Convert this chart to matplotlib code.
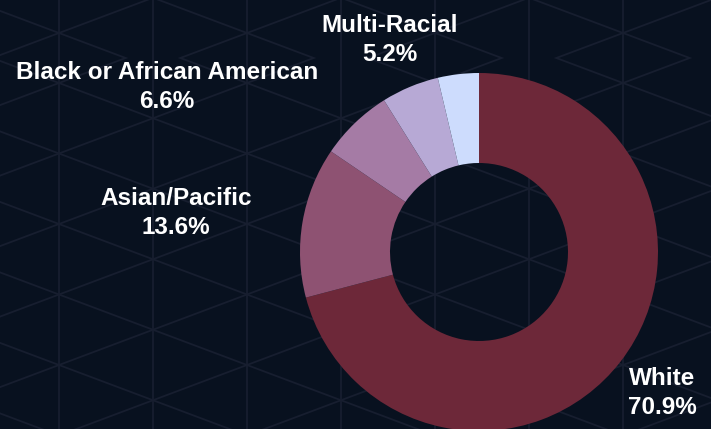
import matplotlib.pyplot as plt
from matplotlib.patches import Rectangle
import numpy as np

# --- data ---
categories = ['White', 'Asian/Pacific', 'Black or African American', 'Multi-Racial', 'Other']
shares = [70.9, 13.6, 6.6, 5.2, 3.7]
show_label = [True, True, True, True, False]

# --- style ---
BG = '#08111f'
GRID = '#171e2f'
RING = ['#6d2839', '#8e5272', '#a57ba5', '#b7a9d5', '#cddcfd']
W, H = 711, 429

# label centres (pixel coords, from top), picked by hand like the original layout
LABEL_POS = {
    'White': (662, 393),
    'Asian/Pacific': (176, 213),
    'Black or African American': (167, 87),
    'Multi-Racial': (390, 40),
}

fig = plt.figure(figsize=(W / 100, H / 100), dpi=100)
fig.patch.set_facecolor(BG)
ax = fig.add_axes([0, 0, 1, 1])
ax.set_facecolor(BG)


def lattice(y_anchor, top, bottom):
    """triangle grid: verticals every 94px, diagonals through (59, y_anchor + k*70.5)"""
    clip = Rectangle((0, H - bottom), W, bottom - top, transform=ax.transData,
                     facecolor='none', edgecolor='none')
    ax.add_patch(clip)
    s = 35.25 / 94
    xs = np.array([-20, W + 20])
    lines = []
    for x in np.arange(59 - 94, W + 94, 94):
        lines += ax.plot([x, x], [0, H], color=GRID, lw=1.3, zorder=0)
    for k in range(-12, 14):
        y0 = y_anchor + k * 70.5
        for sign in (1, -1):
            yy = y0 + sign * s * (xs - 59)
            lines += ax.plot(xs, H - yy, color=GRID, lw=1.3, zorder=0)
    for ln in lines:
        ln.set_clip_path(clip)


lattice(83, 58, H)
lattice(33, 0, 58)

# donut (centre at 479,252 px from top)
cx, cy, r = 479, H - 252, 179
wedges, _ = ax.pie(shares, colors=RING, startangle=90, counterclock=False,
                   center=(cx, cy), radius=r,
                   wedgeprops=dict(width=90, linewidth=0))
for w in wedges:
    w.set_zorder(2)

for name, val, show in zip(categories, shares, show_label):
    if not show:
        continue
    x, y = LABEL_POS[name]
    ax.text(x, H - y, f"{name}\n{val}%", ha='center', va='center', color='white',
            fontsize=17.5, fontweight='bold', family='Liberation Sans',
            linespacing=1.35, zorder=3)

ax.set_xlim(0, W)
ax.set_ylim(0, H)
ax.set_aspect('auto')
ax.axis('off')

fig.savefig('out.png', dpi=100, facecolor=BG)
